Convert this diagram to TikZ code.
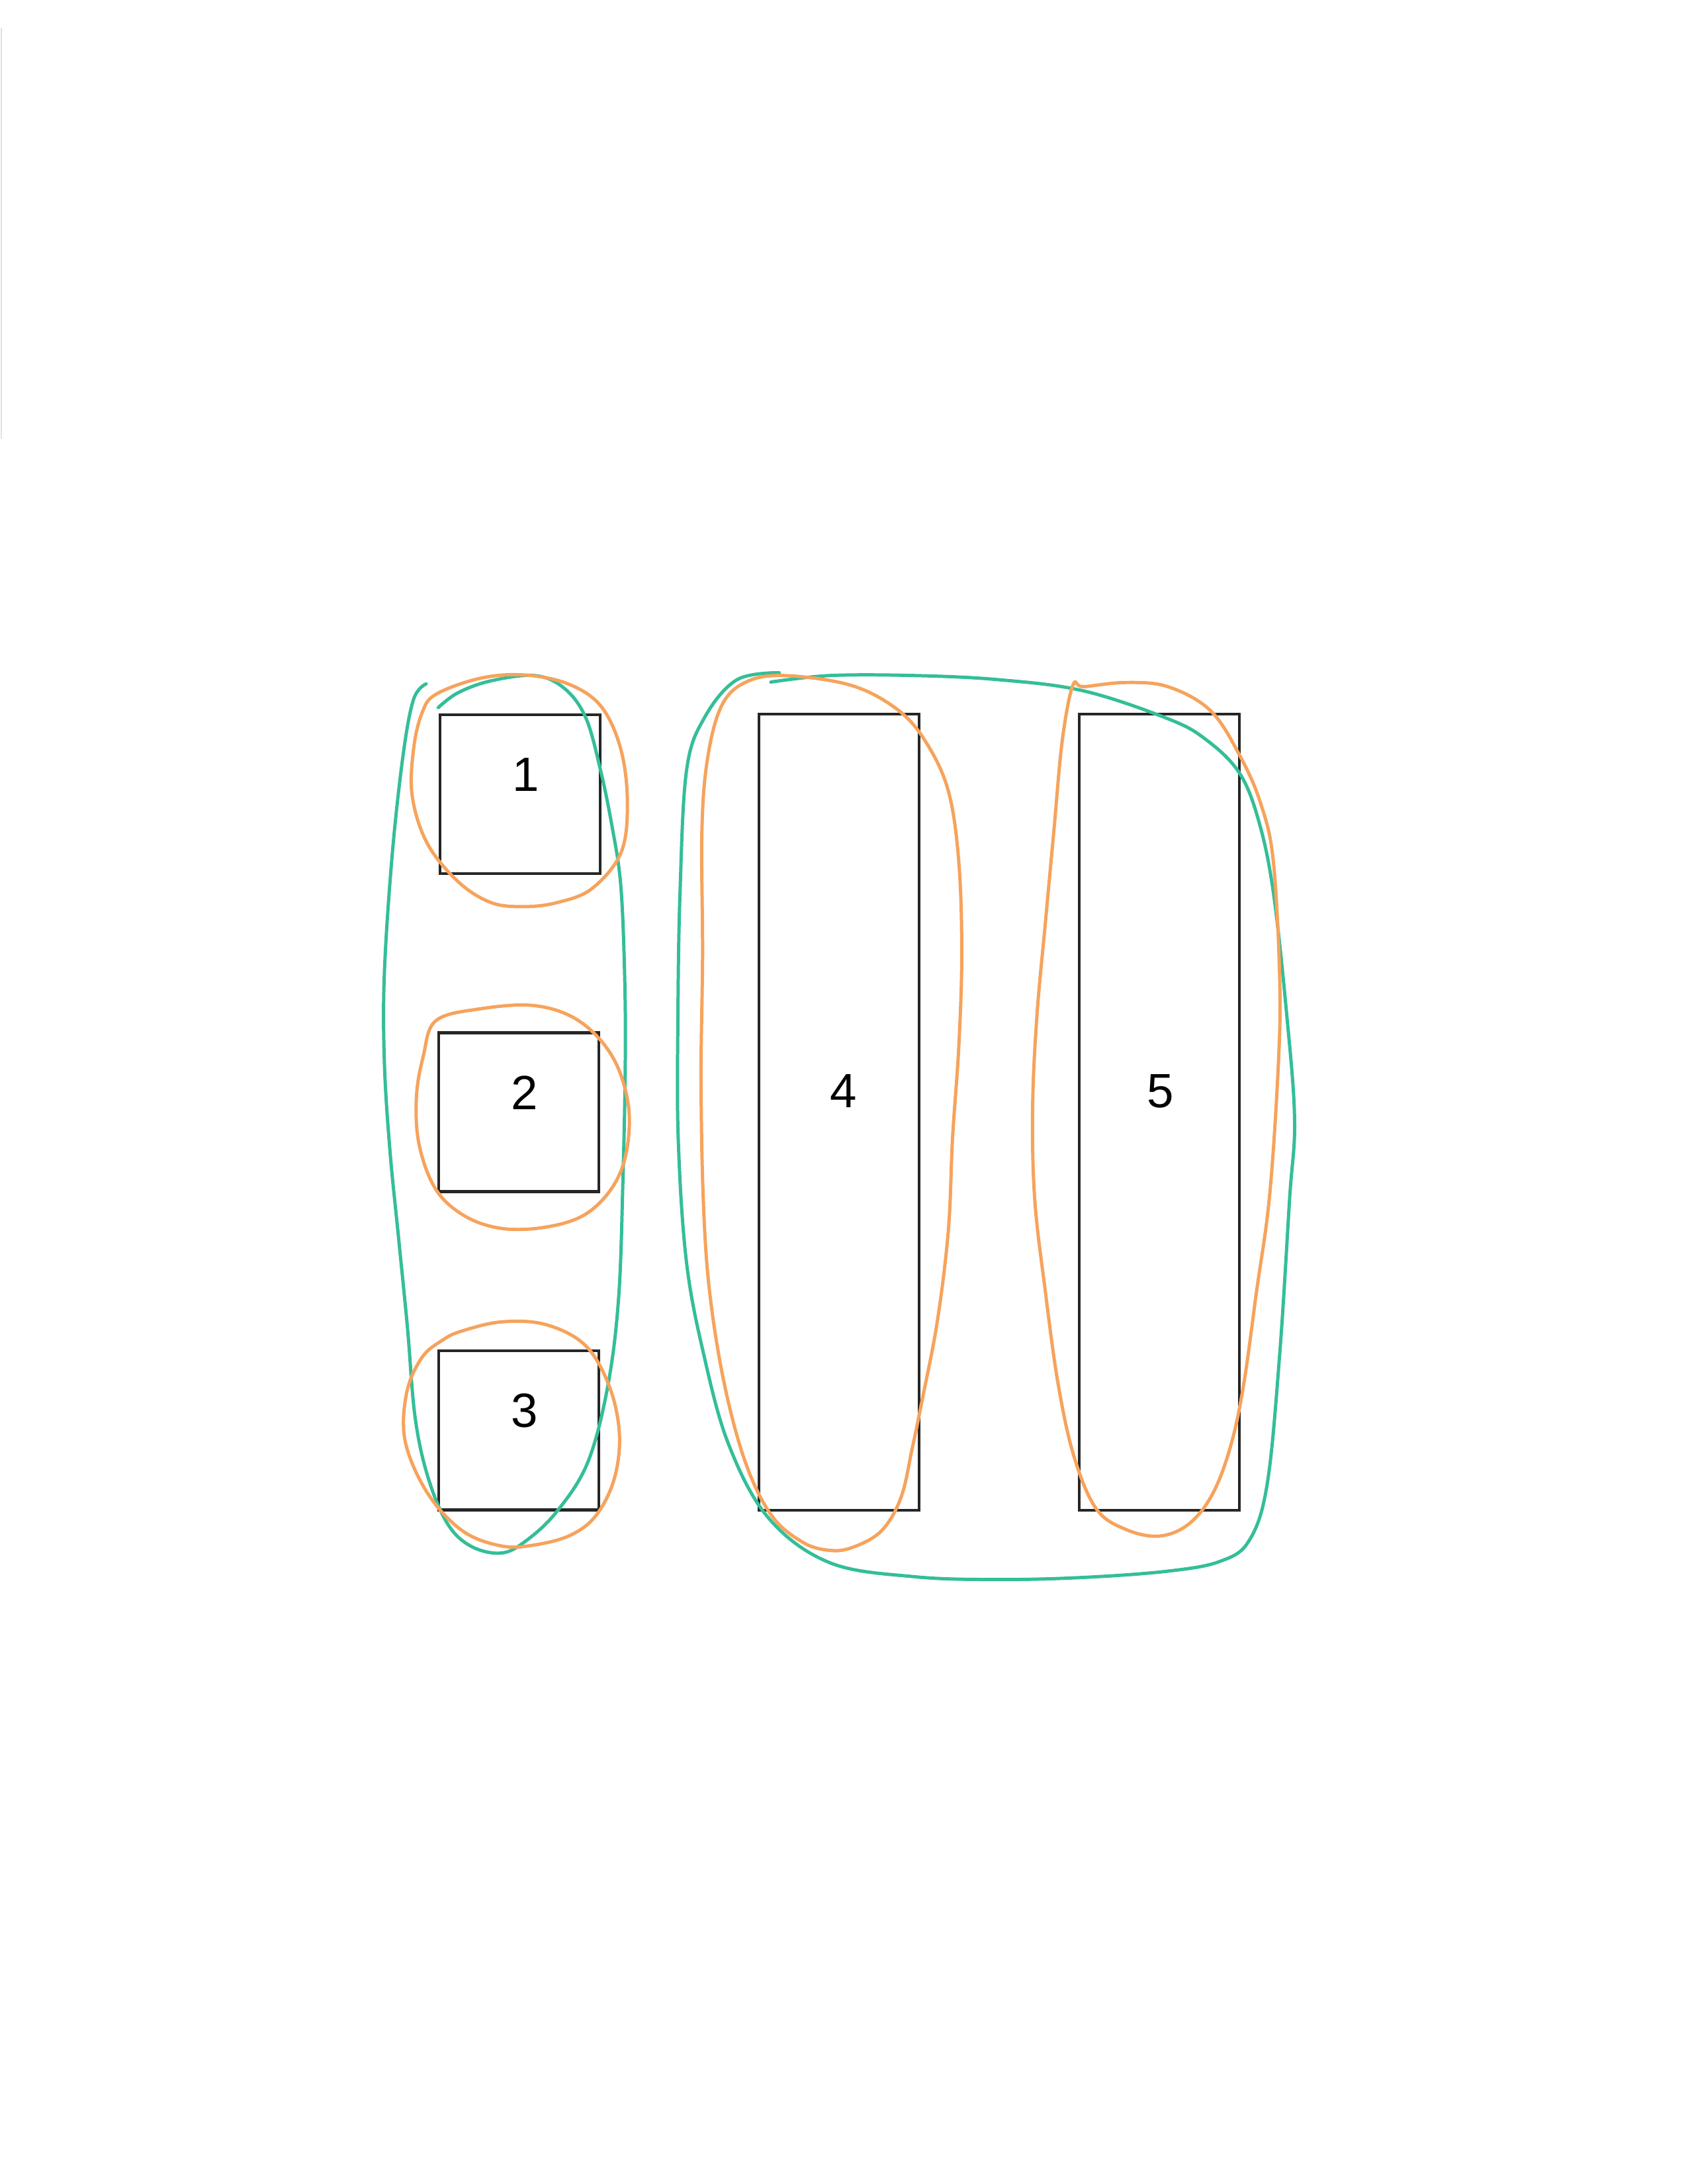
\documentclass[tikz,border=0pt]{standalone}
\usepackage{fontspec}
\setmainfont{Liberation Sans}
\usepackage{tikz}
\definecolor{markerorange}{RGB}{246,163,92}
\definecolor{markergreen}{RGB}{52,190,152}
\tikzset{
  box/.style={draw=black!85,line width=1pt,minimum width=2.049cm,minimum height=2.031cm,inner sep=0pt},
  tallbox/.style={box,minimum height=10.172cm},
  num/.style={font=\fontsize{17.5}{20}\selectfont,inner sep=0pt},
  orangeloop/.style={draw=markerorange,line width=1.2pt,line join=round},
  greenloop/.style={draw=markergreen,line width=1.2pt,line cap=round,line join=round},
}

\begin{document}
\begin{tikzpicture}[x=0.017814cm,y=-0.017814cm]
\useasboundingbox (0,0) rectangle (1212,1568);
\draw[black!12,line width=0.6pt] (1,20) -- (1,315);

\node[box] (b1) at (373.5,570) {};
\node[box] (b2) at (372.5,798.5) {};
\node[box] (b3) at (372.5,1027) {};
\node[tallbox] (b4) at (602.5,798.5) {};
\node[tallbox] (b5) at (832.5,798.5) {};

\node[num] (n1) at ([shift={(4,-14)}]b1.center) {1};
\node[num] (n2) at ([shift={(4,-14)}]b2.center) {2};
\node[num] (n3) at ([shift={(4,-14)}]b3.center) {3};
\node[num] (n4) at ([shift={(3,-15)}]b4.center) {4};
\node[num] (n5) at ([shift={(1,-15)}]b5.center) {5};

\draw[greenloop] plot[smooth,tension=0.6] coordinates {
  (306,491) (297,502) (289.5,541.8) (281.6,614) (276,698.8) (276,762.5)
  (280,826) (286.3,889.7) (292.6,953.4) (298,1017) (307,1059.5) (321,1093.4)
  (338,1110) (360,1115) (378,1106) (400,1085) (422,1050) (436.3,995.8)
  (444.2,932) (447.3,847.3) (449,762.5) (448.5,698.8) (445.7,635) (439.4,592.8)
  (431,552) (420.5,515) (405,494) (384,485) (352.6,488.8) (329,497.3) (314.7,508)};
\draw[greenloop] plot[smooth,tension=0.6] coordinates {
  (559.6,483) (529.2,488) (506,515) (493,553) (488.3,641) (486.8,729)
  (487,817) (492.8,905) (505,971) (523.2,1037) (552,1090) (596,1122)
  (656.6,1132) (717.3,1134) (778,1132.5) (838.6,1128) (876,1121) (897,1106)
  (910,1065) (919,971) (926,861) (929.6,804) (924,729) (914.4,641)
  (904,590) (890,555) (866,531) (838.6,516) (778,496) (717.3,488)
  (656.6,485) (596,485) (553.5,489.7)};

\draw[orangeloop] plot[smooth cycle,tension=0.6] coordinates {
  (313,498.5) (344.7,487) (376.3,484.6) (407.9,491) (431.5,507) (445.7,537.6)
  (450.5,575.8) (446,612) (425,638) (400,648) (376.3,650.9)
  (352.6,648) (329,633) (306.8,605.5) (296,571.5) (297,537.6) (303,512)};
\draw[orangeloop] plot[smooth cycle,tension=0.6] coordinates {
  (313,732.8) (344.7,724.3) (384,722) (415.5,732.8) (439.4,758) (451,792)
  (450,826) (440,852) (420,872) (392,881) (360.5,882) (333.7,873)
  (313,854) (301,822) (299,788) (304,758)};
\draw[orangeloop] plot[smooth cycle,tension=0.6] coordinates {
  (332,955.5) (360.5,949) (392,951) (420.4,966) (437.7,995.8) (444.8,1029.8)
  (441,1062) (428,1088) (410,1102) (385,1109) (360.5,1110) (332,1099)
  (307,1072) (291,1035) (292,1000) (303,974.6) (318,962)};
\draw[orangeloop] plot[smooth cycle,tension=0.6] coordinates {
  (535,490) (562.6,485) (611,492) (644.5,509.5) (665,533) (681,568)
  (688.5,619) (690.6,685) (688.5,751) (684,817) (681,883) (673,949)
  (662,1006) (655,1040) (647,1075) (633,1099) (612,1111) (595,1113)
  (576,1107) (554,1088) (535.3,1050) (520,993) (509.5,927) (505,861)
  (503.4,773) (504.5,685) (504,597) (508,545) (518,507)};
\draw[orangeloop] plot[smooth cycle,tension=0.6] coordinates {
  (770.4,492) (762.8,531.5) (756.7,597) (750.6,663) (744.6,729) (741.5,795)
  (743,861) (750.6,927) (759.7,993) (771,1045) (787,1083) (808.3,1098)
  (832.5,1102.8) (853.8,1094) (871,1072) (884,1037) (893.2,993) (902.3,927)
  (911.4,861) (917.5,773) (919,707) (914.4,619) (905.3,577) (890,542)
  (869,510) (838.6,493) (808.3,490) (778,493)};
\end{tikzpicture}
\end{document}
